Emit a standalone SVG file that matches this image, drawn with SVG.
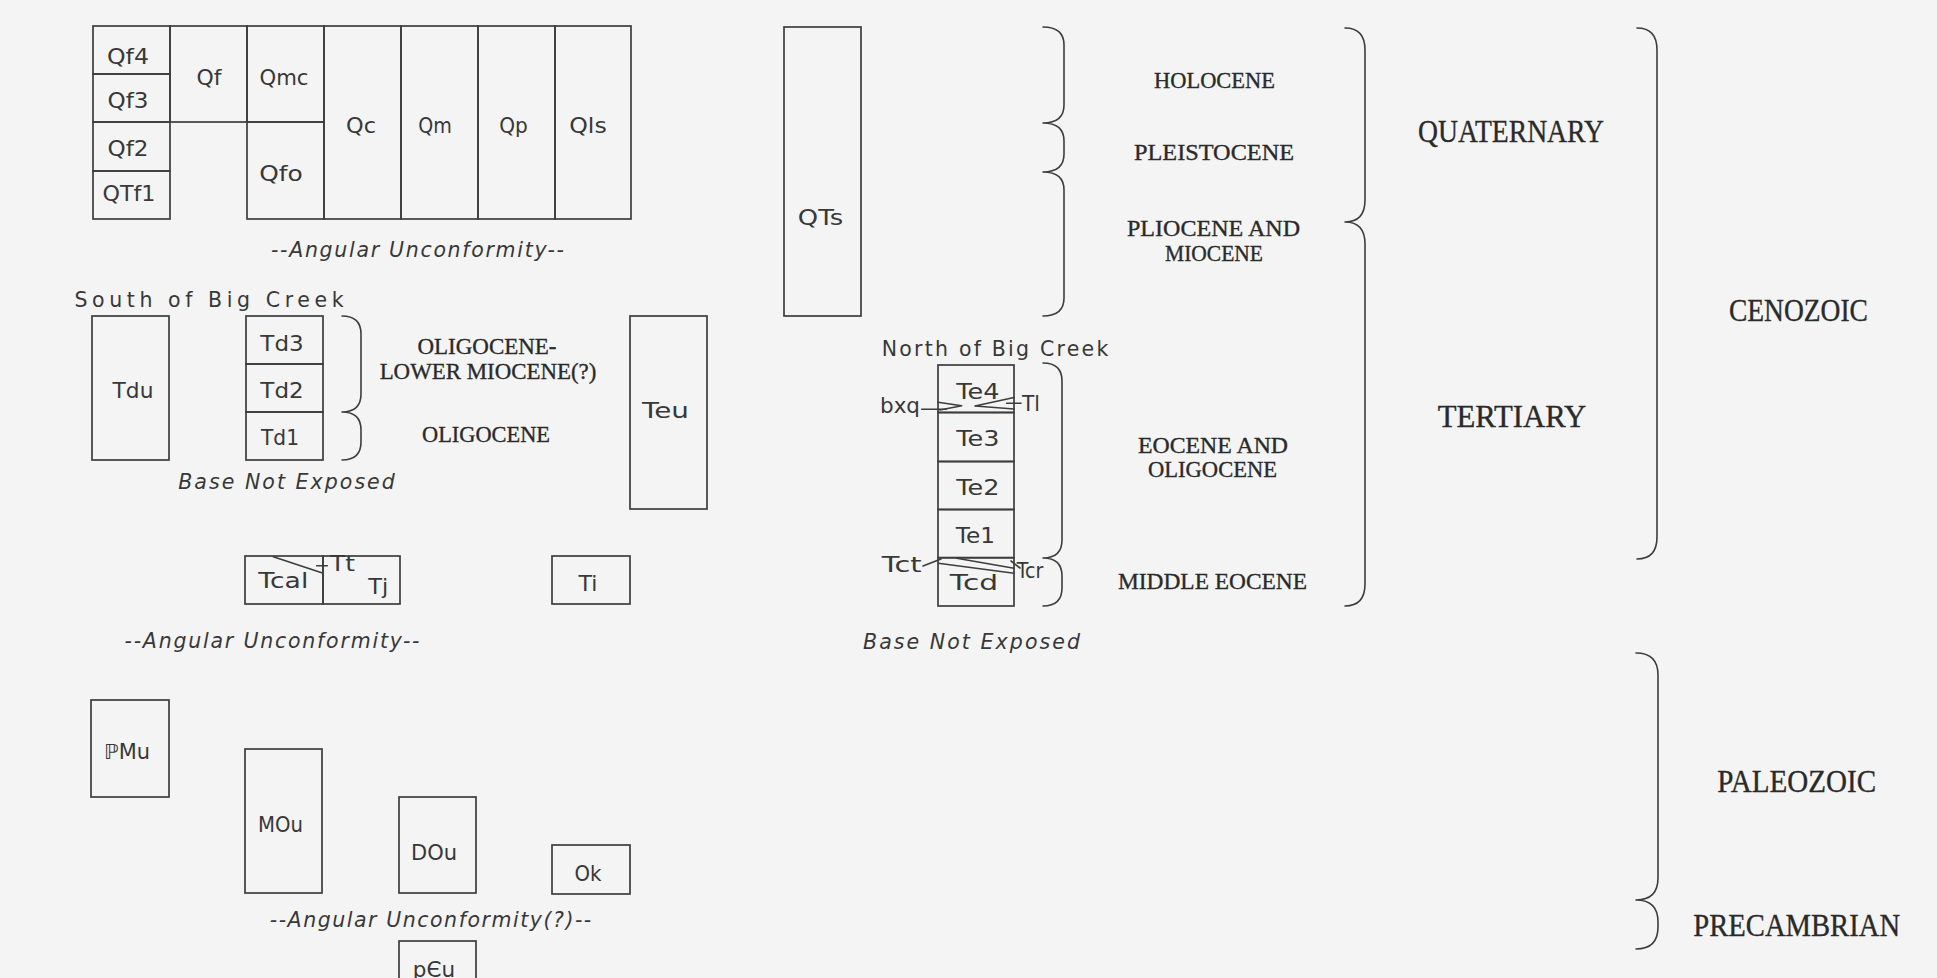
<svg xmlns="http://www.w3.org/2000/svg" width="1937" height="978" viewBox="0 0 1937 978">
<style>
.bx{fill:none;stroke:#3d3d3d;stroke-width:1.7}
.ln{fill:none;stroke:#3d3d3d;stroke-width:1.6;stroke-linejoin:round;stroke-linecap:round}
.s{font-family:"DejaVu Sans",sans-serif;font-size:21px;fill:#383838;text-anchor:middle}
.p{font-family:"DejaVu Sans",sans-serif;font-size:20.5px;fill:#383838;text-anchor:middle}
.i{font-family:"DejaVu Sans",sans-serif;font-style:italic;font-size:20.5px;fill:#383838;text-anchor:middle}
.r{font-family:"Liberation Serif",serif;font-size:24px;fill:#2a2a2a;stroke:#2a2a2a;stroke-width:0.35;text-anchor:middle}
.R{font-family:"Liberation Serif",serif;font-size:32px;fill:#2a2a2a;stroke:#2a2a2a;stroke-width:0.35;text-anchor:middle}
</style>
<rect x="0" y="0" width="1937" height="978" fill="#f4f4f4"/>

<g id="Qf4"><rect class="bx" x="93" y="26" width="77" height="48"/><text class="s" x="128" y="64" textLength="42" lengthAdjust="spacingAndGlyphs">Qf4</text></g>
<g id="Qf3"><rect class="bx" x="93" y="74" width="77" height="48"/><text class="s" x="128" y="108" textLength="41" lengthAdjust="spacingAndGlyphs">Qf3</text></g>
<g id="Qf2"><rect class="bx" x="93" y="122" width="77" height="49"/><text class="s" x="128" y="156" textLength="41" lengthAdjust="spacingAndGlyphs">Qf2</text></g>
<g id="QTf1"><rect class="bx" x="93" y="171" width="77" height="48"/><text class="s" x="129" y="201" textLength="53" lengthAdjust="spacingAndGlyphs">QTf1</text></g>
<g id="Qf"><rect class="bx" x="170" y="26" width="77" height="96"/><text class="s" x="209" y="84.5" textLength="25" lengthAdjust="spacingAndGlyphs">Qf</text></g>
<g id="Qmc"><rect class="bx" x="247" y="26" width="77" height="96"/><text class="s" x="284" y="84.5" textLength="49" lengthAdjust="spacingAndGlyphs">Qmc</text></g>
<g id="Qfo"><rect class="bx" x="247" y="122" width="77" height="97"/><text class="s" x="281" y="181" textLength="43.6" lengthAdjust="spacingAndGlyphs">Qfo</text></g>
<g id="Qc"><rect class="bx" x="324" y="26" width="77" height="193"/><text class="s" x="361" y="133" textLength="30" lengthAdjust="spacingAndGlyphs">Qc</text></g>
<g id="Qm"><rect class="bx" x="401" y="26" width="77" height="193"/><text class="s" x="435" y="133" textLength="33.6" lengthAdjust="spacingAndGlyphs">Qm</text></g>
<g id="Qp"><rect class="bx" x="478" y="26" width="77" height="193"/><text class="s" x="513.5" y="133" textLength="28.6" lengthAdjust="spacingAndGlyphs">Qp</text></g>
<g id="Qls"><rect class="bx" x="555" y="26" width="76" height="193"/><text class="s" x="588" y="133" textLength="37.5" lengthAdjust="spacingAndGlyphs">Qls</text></g>
<g id="unconf1"><text class="i" x="417.5" y="257" textLength="293" lengthAdjust="spacing">--Angular Unconformity--</text></g>

<g id="south-title"><text class="p" x="209" y="306.5" textLength="269" lengthAdjust="spacing">South of Big Creek</text></g>
<g id="Tdu"><rect class="bx" x="92" y="316" width="77" height="144"/><text class="s" x="133" y="398" textLength="40.8" lengthAdjust="spacingAndGlyphs">Tdu</text></g>
<g id="Td3"><rect class="bx" x="246" y="316" width="77" height="48"/><text class="s" x="282" y="350.5" textLength="43.3" lengthAdjust="spacingAndGlyphs">Td3</text></g>
<g id="Td2"><rect class="bx" x="246" y="364" width="77" height="48"/><text class="s" x="282" y="398" textLength="43.3" lengthAdjust="spacingAndGlyphs">Td2</text></g>
<g id="Td1"><rect class="bx" x="246" y="412" width="77" height="48"/><text class="s" x="280" y="445" textLength="38" lengthAdjust="spacingAndGlyphs">Td1</text></g>
<g id="label-olig-miocene"><text class="r" x="487" y="354" textLength="139" lengthAdjust="spacingAndGlyphs">OLIGOCENE-</text><text class="r" x="488" y="378.5" textLength="216.7" lengthAdjust="spacingAndGlyphs">LOWER MIOCENE(?)</text></g>
<g id="label-oligocene"><text class="r" x="486" y="442" textLength="128" lengthAdjust="spacingAndGlyphs">OLIGOCENE</text></g>
<g id="base1"><text class="i" x="286.5" y="489" textLength="216.6" lengthAdjust="spacing">Base Not Exposed</text></g>
<g id="Teu"><rect class="bx" x="630" y="316" width="77" height="193"/><text class="s" x="665.5" y="417.5" textLength="47" lengthAdjust="spacingAndGlyphs">Teu</text></g>

<g id="Tcal"><rect class="bx" x="245" y="556" width="78" height="48"/><text class="s" x="283.3" y="588" textLength="50" lengthAdjust="spacingAndGlyphs">Tcal</text></g>
<g id="Tj"><rect class="bx" x="323" y="556" width="77" height="48"/><text class="s" x="378.3" y="594" textLength="20" lengthAdjust="spacingAndGlyphs">Tj</text></g>
<g id="Tt"><text class="s" x="342.5" y="571" textLength="25" lengthAdjust="spacingAndGlyphs">Tt</text></g>
<g id="Ti"><rect class="bx" x="552" y="556" width="78" height="48"/><text class="s" x="588" y="590.5" textLength="19" lengthAdjust="spacingAndGlyphs">Ti</text></g>
<g id="unconf2"><text class="i" x="272" y="648" textLength="295" lengthAdjust="spacing">--Angular Unconformity--</text></g>

<g id="PMu"><rect class="bx" x="91" y="700" width="78" height="97"/><text class="s" x="127" y="758.5" textLength="46" lengthAdjust="spacingAndGlyphs">ℙMu</text></g>
<g id="MOu"><rect class="bx" x="245" y="749" width="77" height="144"/><text class="s" x="280.5" y="831.5" textLength="45" lengthAdjust="spacingAndGlyphs">MOu</text></g>
<g id="DOu"><rect class="bx" x="399" y="797" width="77" height="96"/><text class="s" x="434" y="859.5" textLength="46" lengthAdjust="spacingAndGlyphs">DOu</text></g>
<g id="Ok"><rect class="bx" x="552" y="845" width="78" height="49"/><text class="s" x="588" y="880.5" textLength="27" lengthAdjust="spacingAndGlyphs">Ok</text></g>
<g id="unconf3"><text class="i" x="430.5" y="927" textLength="321.5" lengthAdjust="spacing">--Angular Unconformity(?)--</text></g>
<g id="pCu"><rect class="bx" x="399" y="941" width="77" height="60"/><text class="s" x="434" y="976.5" textLength="42.3" lengthAdjust="spacingAndGlyphs">pЄu</text></g>

<g id="QTs"><rect class="bx" x="784" y="27" width="77" height="289"/><text class="s" x="820.5" y="225" textLength="45.3" lengthAdjust="spacingAndGlyphs">QTs</text></g>
<g id="label-holocene"><text class="r" x="1214.5" y="88" textLength="121" lengthAdjust="spacingAndGlyphs">HOLOCENE</text></g>
<g id="label-pleistocene"><text class="r" x="1214" y="159.5" textLength="160" lengthAdjust="spacingAndGlyphs">PLEISTOCENE</text></g>
<g id="label-pliocene"><text class="r" x="1213.5" y="236" textLength="173" lengthAdjust="spacingAndGlyphs">PLIOCENE AND</text><text class="r" x="1214" y="260.5" textLength="98" lengthAdjust="spacingAndGlyphs">MIOCENE</text></g>

<g id="north-title"><text class="p" x="995" y="356" textLength="226.6" lengthAdjust="spacing">North of Big Creek</text></g>
<g id="Te4"><rect class="bx" x="938" y="365" width="76" height="47.5"/><text class="s" x="978" y="399" textLength="43.3" lengthAdjust="spacingAndGlyphs">Te4</text></g>
<g id="Te3"><rect class="bx" x="938" y="412.5" width="76" height="49"/><text class="s" x="978" y="446" textLength="43.3" lengthAdjust="spacingAndGlyphs">Te3</text></g>
<g id="Te2"><rect class="bx" x="938" y="461.5" width="76" height="48"/><text class="s" x="978" y="494.5" textLength="43.3" lengthAdjust="spacingAndGlyphs">Te2</text></g>
<g id="Te1"><rect class="bx" x="938" y="509.5" width="76" height="48.2"/><text class="s" x="975.5" y="542.5" textLength="39.3" lengthAdjust="spacingAndGlyphs">Te1</text></g>
<g id="Tcd"><rect class="bx" x="938" y="557.7" width="76" height="48.3"/><text class="s" x="974" y="589.5" textLength="48.3" lengthAdjust="spacingAndGlyphs">Tcd</text></g>
<g id="bxq"><text class="s" x="900" y="413" textLength="40" lengthAdjust="spacingAndGlyphs">bxq</text></g>
<g id="Tl"><text class="s" x="1031" y="410.5" textLength="18" lengthAdjust="spacingAndGlyphs">Tl</text></g>
<g id="Tct"><text class="s" x="901.7" y="571.5" textLength="40" lengthAdjust="spacingAndGlyphs">Tct</text></g>
<g id="Tcr"><text class="s" x="1030" y="577.5" textLength="26.6" lengthAdjust="spacingAndGlyphs">Tcr</text></g>
<g id="label-eocene-olig"><text class="r" x="1213" y="452.5" textLength="150" lengthAdjust="spacingAndGlyphs">EOCENE AND</text><text class="r" x="1212.5" y="477" textLength="129" lengthAdjust="spacingAndGlyphs">OLIGOCENE</text></g>
<g id="label-middle-eocene"><text class="r" x="1212.5" y="588.5" textLength="189" lengthAdjust="spacingAndGlyphs">MIDDLE EOCENE</text></g>
<g id="base2"><text class="i" x="971.5" y="649" textLength="217" lengthAdjust="spacing">Base Not Exposed</text></g>

<g id="label-quaternary"><text class="R" x="1511" y="141.5" textLength="186" lengthAdjust="spacingAndGlyphs">QUATERNARY</text></g>
<g id="label-tertiary"><text class="R" x="1512" y="426.5" textLength="148.7" lengthAdjust="spacingAndGlyphs">TERTIARY</text></g>
<g id="label-cenozoic"><text class="R" x="1798.4" y="320.5" textLength="139" lengthAdjust="spacingAndGlyphs">CENOZOIC</text></g>
<g id="label-paleozoic"><text class="R" x="1796.7" y="792" textLength="158.7" lengthAdjust="spacingAndGlyphs">PALEOZOIC</text></g>
<g id="label-precambrian"><text class="R" x="1796.7" y="936" textLength="206.7" lengthAdjust="spacingAndGlyphs">PRECAMBRIAN</text></g>

<g id="connectors">
<path class="ln" d="M342,316 Q361,316 361,334 L361,394 Q361,412 342,412 Q361,412 361,430 L361,442 Q361,460 342,460"/>
<path class="ln" d="M1043,27 Q1064,27 1064,45 L1064,105 Q1064,123 1043,123 Q1064,123 1064,141 L1064,154 Q1064,172 1043,172 Q1064,172 1064,190 L1064,298 Q1064,316 1043,316"/>
<path class="ln" d="M1043,363 Q1062,363 1062,381 L1062,540 Q1062,558 1043,558 Q1062,558 1062,576 L1062,588 Q1062,606 1043,606"/>
<path class="ln" d="M1345,28 Q1365,28 1365,50 L1365,200 Q1365,222 1345,222 Q1365,222 1365,244 L1365,584 Q1365,606 1345,606"/>
<path class="ln" d="M1637,28 Q1657,28 1657,50 L1657,537 Q1657,559 1637,559"/>
<path class="ln" d="M1636,653 Q1658,653 1658,675 L1658,878 Q1658,900 1636,900 Q1658,900 1658,922 L1658,927 Q1658,949 1636,949"/>
<path class="ln" d="M273.3,556.7 L321.7,572.7"/>
<path class="ln" d="M316.7,565.7 L327.3,565.7"/>
<path class="ln" d="M921.7,409.3 L946,409.3"/>
<path class="ln" d="M938,402.3 L961.7,405.7 L940,410"/>
<path class="ln" d="M1014,397.5 L975,406 L1014,409"/>
<path class="ln" d="M1006.7,403.3 L1021,403.3"/>
<path class="ln" d="M923,566 L941,559"/>
<path class="ln" d="M956.7,558.3 L1014,568.3"/>
<path class="ln" d="M938.3,563.3 L1014,573.3"/>
<path class="ln" d="M1011,561 L1020,568"/>
</g>
</svg>
